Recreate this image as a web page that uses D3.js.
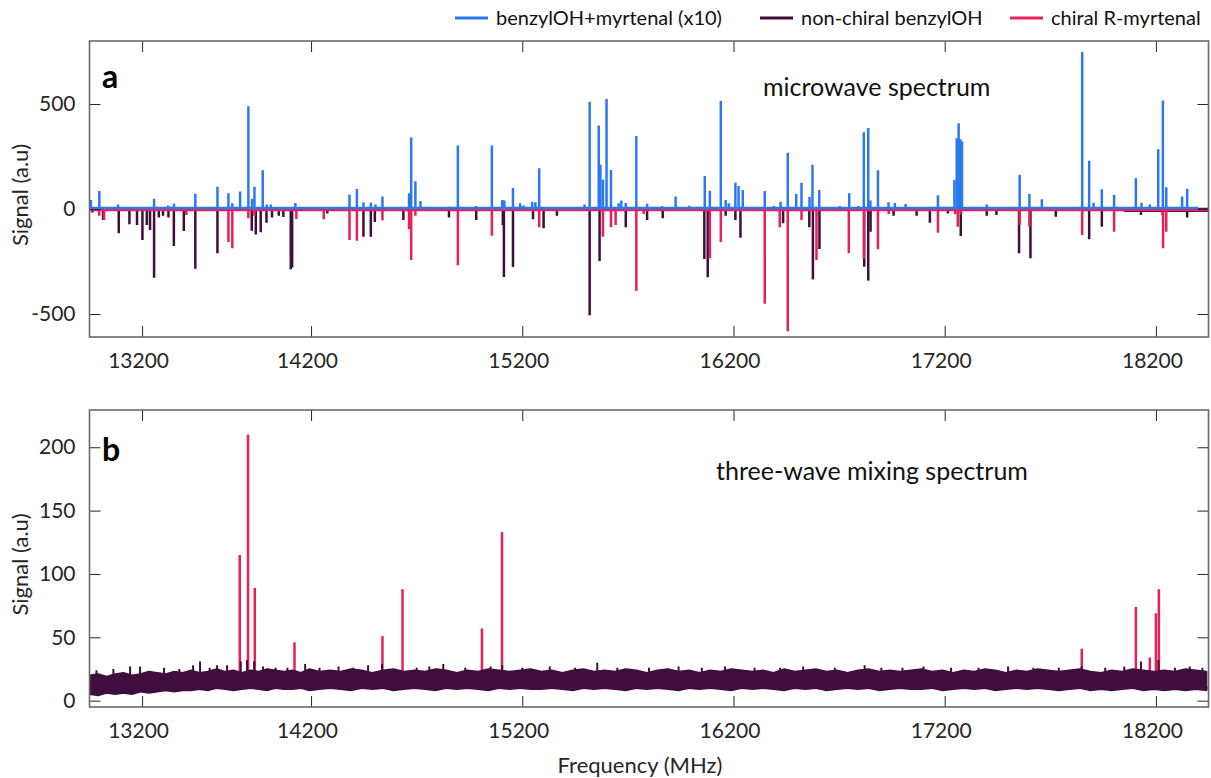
<!DOCTYPE html>
<html>
<head>
<meta charset="utf-8">
<script src="https://cdn.jsdelivr.net/npm/d3@7"></script>
<style>
  body { margin: 0; background: #fff; }
  svg { font-family: Lato, "Open Sans", sans-serif; }
</style>
</head>
<body>
<div id="chart"></div>
<script>
// ---- data ----
const xTicks = [13200, 14200, 15200, 16200, 17200, 18200];
const yTicksTop = [-500, 0, 500];
const yTicksBottom = [0, 50, 100, 150, 200];

const seriesNames = ["benzylOH+myrtenal (x10)", "non-chiral benzylOH", "chiral R-myrtenal"];
const seriesColors = ["#2b78f0", "#400e3d", "#e8205a"];

// panel a: [frequency MHz, signal]
const mixPeaks = [
  [12897,43],[12947,86],[13058,22],[13271,49],[13354,17],[13389,25],[13515,73],[13646,106],
  [13711,75],[13734,27],[13780,83],[13829,489],[13851,49],[13865,106],[13914,184],[13938,22],
  [13962,22],[14107,29],[14382,68],[14417,95],[14448,32],[14483,30],[14505,22],[14538,59],
  [14664,75],[14674,340],[14694,132],[14718,38],[14855,11],[14895,302],[14982,14],[15056,302],
  [15105,43],[15115,41],[15156,100],[15190,27],[15206,17],[15247,35],[15262,32],[15280,194],
  [15427,8],[15495,22],[15519,511],[15562,398],[15570,211],[15582,141],[15599,524],[15620,186],
  [15656,27],[15669,41],[15690,29],[15740,348],[15791,25],[15830,11],[15862,14],[15926,60],
  [15991,16],[16064,157],[16088,87],[16140,514],[16163,43],[16178,27],[16209,125],[16224,110],
  [16244,90],[16348,86],[16391,14],[16423,35],[16457,268],[16497,71],[16522,125],[16560,57],
  [16574,211],[16606,90],[16704,14],[16748,75],[16792,14],[16817,365],[16838,386],[16848,40],
  [16884,184],[16934,32],[16964,29],[17015,24],[17168,65],[17246,138],[17257,337],[17266,408],
  [17274,332],[17282,321],[17399,22],[17555,163],[17601,71],[17660,46],[17851,748],[17884,230],
  [17905,30],[17944,94],[18002,67],[18105,146],[18132,30],[18171,21],[18211,284],[18233,517],
  [18249,103],[18324,59],[18348,97]
];
const benzylPeaks = [
  [12906,-17],[12969,-52],[13062,-116],[13125,-73],[13170,-76],[13202,-148],[13228,-76],[13247,-100],
  [13271,-327],[13299,-41],[13324,-32],[13356,-40],[13388,-176],[13447,-105],[13515,-284],[13646,-211],
  [13849,-103],[13873,-121],[13902,-111],[13936,-65],[13969,-41],[14009,-32],[14036,-38],[14080,-287],
  [14088,-278],[14277,-21],[14448,-132],[14483,-132],[14502,-62],[14637,-52],[14853,-41],[14982,-52],
  [15108,-76],[15113,-324],[15156,-276],[15251,-49],[15301,-92],[15364,-32],[15519,-506],[15566,-248],
  [15690,-87],[15791,-52],[15865,-44],[16062,-238],[16078,-325],[16163,-32],[16209,-52],[16233,-137],
  [16435,-68],[16559,-87],[16576,-335],[16607,-190],[16819,-275],[16838,-341],[16849,-108],[16958,-32],
  [17067,-32],[17130,-65],[17215,-21],[17276,-129],[17399,-32],[17445,-29],[17552,-211],[17606,-235],
  [17726,-37],[17884,-144],[17944,-84],[18129,-29],[18232,-29],[18348,-40]
];
const benzylOffset = [[18048,-7],[18449,-7]];
const myrtenalPeaks = [
  [12946,-32],[12975,-52],[13462,-29],[13711,-157],[13734,-187],[13829,-44],[13865,-32],[14113,-48],
  [14260,-49],[14382,-148],[14417,-151],[14538,-54],[14664,-97],[14674,-243],[14694,-32],[14895,-268],
  [15056,-127],[15280,-87],[15582,-132],[15620,-87],[15642,-76],[15740,-390],[15775,-24],[16088,-235],
  [16140,-157],[16348,-451],[16419,-87],[16457,-583],[16522,-52],[16593,-243],[16746,-211],[16817,-237],
  [16884,-192],[16935,-24],[17168,-113],[17250,-25],[17262,-84],[17278,-25],[17555,-76],[17601,-84],
  [17851,-124],[18002,-108],[18234,-187],[18249,-108]
];

// panel b
const mixingPeaks = [
  [13778,115],[13827,210],[13867,89],[14102,46],[14538,51],[14633,88],[15009,57],[15104,133],
  [17849,41],[18105,74],[18171,34],[18200,69],[18214,88]
];
// noise envelope sampled every 50 MHz from 12890 MHz
const noiseFirst = 12890, noiseStep = 50;
const noiseHigh = [
  20,21,19,21,22,20,21,23,22,21,23,22,
  24,22,23,25,23,24,22,24,23,25,24,23,
  24,22,25,23,24,23,25,24,22,24,25,23,
  24,23,25,24,22,24,23,25,24,23,24,25,
  23,24,22,24,25,23,24,23,25,24,22,24,
  25,23,24,22,24,23,25,24,23,24,22,25,
  23,24,25,23,24,22,24,25,23,24,23,24,
  25,23,24,22,24,23,25,24,22,24,23,25,
  24,23,24,25,23,22,24,23,25,24,23,24,
  23,25,24,23
];
const noiseLow = [
  5,4,6,5,6,5,7,6,7,8,7,8,
  8,9,8,10,9,8,9,10,9,8,10,9,
  9,10,8,9,10,9,8,10,9,10,8,9,
  10,9,8,10,9,10,9,8,10,9,10,9,
  9,10,9,8,10,9,10,9,8,10,9,10,
  9,8,10,9,10,9,8,10,9,10,9,8,
  10,9,10,8,9,10,9,10,8,9,10,9,
  9,10,8,9,10,9,10,8,9,10,9,10,
  9,8,9,10,8,9,8,9,10,8,9,8,
  9,8,9,8
];
const noiseSpikes = [
  [12930,24],[13030,25],[13129,27],[13188,27],[13330,26],[13420,25],[13502,28],[13543,31],
  [13600,26],[13644,28],[13703,28],[13784,31],[13821,32],[13863,31],[13916,27],[13990,26],
  [14060,26],[14165,29],[14240,26],[14330,27],[14400,26],[14470,28],[14536,29],[14700,26],
  [14760,27],[14826,29],[14930,26],[15050,27],[15105,28],[15200,26],[15330,27],[15450,26],
  [15555,30],[15650,26],[15800,26],[15940,27],[16050,26],[16160,27],[16300,26],[16420,26],
  [16530,27],[16680,26],[16821,28],[16900,26],[17000,26],[17100,27],[17230,26],[17360,26],
  [17500,27],[17620,26],[17740,26],[17849,27],[17960,26],[18050,27],[18129,31],[18212,32],
  [18290,26],[18360,27],[18420,26]
];

// ---- layout ----
const W = 1211, H = 778;
const plot = { left: 89.5, width: 1119 };
const panelA = { top: 41, height: 296, domain: [-609.5, 800] };
const panelB = { top: 410, height: 297, domain: [-5, 229.4] };
const stickWidth = 2.5;
const axisColor = "#262626";
const frameColor = "#6a6a6a";

const svg = d3.select("#chart").append("svg")
  .attr("width", W).attr("height", H);

// frequency axis: first interval is drawn narrower than the others in the original
const x = d3.scaleLinear()
  .domain([13200, 14200, 18200])
  .range([0.047 * plot.width, 0.198 * plot.width, 0.953 * plot.width]);

function makePanel(p, id, yTicks) {
  const g = svg.append("g").attr("transform", `translate(${plot.left},${p.top})`);
  const y = d3.scaleLinear().domain(p.domain).range([p.height, 0]);

  g.append("clipPath").attr("id", id)
    .append("rect").attr("width", plot.width).attr("height", p.height);
  const body = g.append("g").attr("clip-path", `url(#${id})`);

  const fmt = d => String(d);
  const styleAxis = sel => {
    sel.select(".domain").remove();
    sel.selectAll("line").attr("stroke", axisColor);
    sel.selectAll("text").attr("fill", axisColor).attr("font-size", 21)
      .attr("font-family", "Lato, 'Open Sans', sans-serif");
  };

  g.append("g").attr("transform", `translate(0,${p.height})`)
    .call(d3.axisBottom(x).tickValues(xTicks).tickFormat(fmt)
      .tickSizeInner(-11).tickSizeOuter(0).tickPadding(16))
    .call(styleAxis)
    .selectAll("text").attr("dx", -4);
  g.append("g")
    .call(d3.axisTop(x).tickValues(xTicks).tickFormat("")
      .tickSizeInner(-11).tickSizeOuter(0))
    .call(styleAxis);
  g.append("g")
    .call(d3.axisLeft(y).tickValues(yTicks).tickFormat(fmt)
      .tickSizeInner(-11).tickSizeOuter(0).tickPadding(14))
    .call(styleAxis);
  g.append("g").attr("transform", `translate(${plot.width},0)`)
    .call(d3.axisRight(y).tickValues(yTicks).tickFormat("")
      .tickSizeInner(-11).tickSizeOuter(0))
    .call(styleAxis);

  return { g, body, y };
}

function sticks(body, peaks, baseY, y, color, width) {
  body.append("g").selectAll("line").data(peaks).join("line")
    .attr("x1", d => x(d[0])).attr("x2", d => x(d[0]))
    .attr("y1", baseY).attr("y2", d => y(d[1]))
    .attr("stroke", color).attr("stroke-width", width || stickWidth);
}

function baseline(body, y0, color, x1) {
  body.append("line")
    .attr("x1", 0).attr("x2", x1 === undefined ? plot.width : x(x1))
    .attr("y1", y0).attr("y2", y0)
    .attr("stroke", color).attr("stroke-width", 2.5);
}

// ---- panel a ----
const a = makePanel(panelA, "clipA", yTicksTop);
const y0a = a.y(0);
baseline(a.body, y0a, seriesColors[1]);
a.body.append("path").datum(benzylOffset)
  .attr("d", d3.line().x(d => x(d[0])).y(d => a.y(d[1])))
  .attr("stroke", seriesColors[1]).attr("stroke-width", 3).attr("fill", "none");
sticks(a.body, benzylPeaks, y0a, a.y, seriesColors[1]);
baseline(a.body, y0a + 1, seriesColors[2]);
sticks(a.body, myrtenalPeaks, y0a + 1, a.y, seriesColors[2]);
baseline(a.body, y0a - 1, seriesColors[0], 18400);
sticks(a.body, mixPeaks, y0a - 1, a.y, seriesColors[0]);

// ---- panel b ----
const b = makePanel(panelB, "clipB", yTicksBottom);
const baseB = b.y(10);
baseline(b.body, baseB, seriesColors[2]);
sticks(b.body, mixingPeaks, baseB, b.y, seriesColors[2]);

const noise = noiseHigh.map((h, i) => ({ f: noiseFirst + i * noiseStep, hi: h, lo: noiseLow[i] }));
b.body.append("path").datum(noise)
  .attr("d", d3.area()
    .x(d => x(d.f)).y0(d => b.y(d.lo)).y1(d => b.y(d.hi)))
  .attr("fill", seriesColors[1])
  .attr("stroke", seriesColors[1]).attr("stroke-width", 1.5).attr("stroke-linejoin", "bevel");
sticks(b.body, noiseSpikes, b.y(18), b.y, seriesColors[1], 2);

// frames
[panelA, panelB].forEach(p => {
  svg.append("rect")
    .attr("x", plot.left).attr("y", p.top)
    .attr("width", plot.width).attr("height", p.height)
    .attr("fill", "none").attr("stroke", frameColor).attr("stroke-width", 1.6);
});

// ---- titles & annotations ----
const yTitleX = 28;
[panelA, panelB].forEach(p => {
  svg.append("text")
    .attr("transform", `translate(${yTitleX},${p.top + p.height / 2 + 6}) rotate(-90)`)
    .attr("text-anchor", "middle").attr("font-size", 22).attr("fill", axisColor)
    .text("Signal (a.u)");
});
svg.append("text")
  .attr("x", plot.left + plot.width / 2 - 9).attr("y", 773)
  .attr("text-anchor", "middle").attr("font-size", 22).attr("fill", axisColor)
  .text("Frequency (MHz)");

svg.append("text").attr("x", 102).attr("y", 88)
  .attr("font-size", 32).attr("font-weight", "bold").attr("fill", "#000").text("a");
svg.append("text").attr("x", 102).attr("y", 461)
  .attr("font-size", 32).attr("font-weight", "bold").attr("fill", "#000").text("b");

svg.append("text").attr("x", 763).attr("y", 96)
  .attr("font-size", 25).attr("fill", "#111").text("microwave spectrum");
svg.append("text").attr("x", 716).attr("y", 480)
  .attr("font-size", 25).attr("fill", "#111").text("three-wave mixing spectrum");

// ---- legend ----
const legendX = [455, 760, 1010];
const legend = svg.append("g");
seriesNames.forEach((name, i) => {
  legend.append("line")
    .attr("x1", legendX[i]).attr("x2", legendX[i] + 33)
    .attr("y1", 18).attr("y2", 18)
    .attr("stroke", seriesColors[i]).attr("stroke-width", 3);
  legend.append("text")
    .attr("x", legendX[i] + 41).attr("y", 25)
    .attr("font-size", 20).attr("fill", "#111")
    .text(name);
});
</script>
</body>
</html>
